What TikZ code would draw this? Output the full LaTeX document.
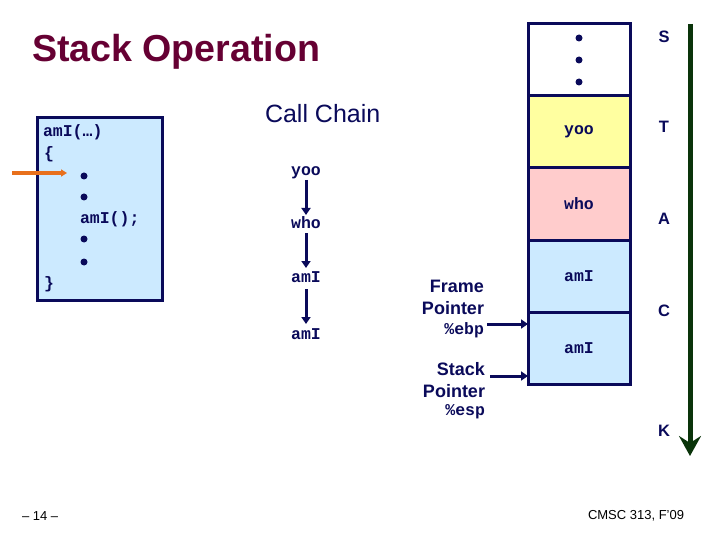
\documentclass[tikz,border=0pt]{standalone}
\usepackage{fontspec}
\setmainfont{Liberation Sans}
\setmonofont{Liberation Mono}
\usetikzlibrary{arrows.meta}
\definecolor{navy}{RGB}{10,10,90}
\definecolor{titlec}{RGB}{102,0,51}
\definecolor{boxblue}{RGB}{204,234,255}
\definecolor{yel}{RGB}{255,255,160}
\definecolor{pnk}{RGB}{255,204,204}
\definecolor{grn}{RGB}{10,52,10}
\definecolor{orng}{RGB}{232,112,28}
\begin{document}
\begin{tikzpicture}[x=1pt,y=-1pt,
  every node/.style={inner sep=0pt, outer sep=0pt},
  mono/.style={font=\fontsize{16.5}{18}\selectfont\ttfamily\bfseries, text=navy},
  dotb/.style={circle, fill=navy, minimum size=7pt},
  cell/.style={draw=navy, line width=3pt, minimum width=102pt, minimum height=72pt, mono},
  stk/.style={font=\fontsize{16.5}{18}\selectfont\bfseries, text=navy, anchor=base},
  ptrlbl/.style={font=\fontsize{18}{22}\selectfont\bfseries, text=navy, align=right, anchor=north east},
  navyarrow/.style={draw=navy, line width=3pt, -{Triangle[length=7pt,width=9pt]}},
  foot/.style={font=\fontsize{13}{15}\selectfont, text=black, anchor=base west},
]
\useasboundingbox[fill=white] (0,0) rectangle (720,540);

% title
\node[anchor=base west, font=\fontsize{37.6}{40}\selectfont\bfseries, text=titlec] (title) at (32,62) {Stack Operation};

% code box
\node[draw=navy, line width=3pt, fill=boxblue, minimum width=125pt, minimum height=182pt] (codebox) at (99.5,209) {};
\node[mono, anchor=base west] (l1) at (43,137) {amI(…)};
\node[mono, anchor=base west] (l2) at (44,159) {\{};
\node[dotb] (b1) at (84,176) {};
\node[dotb] (b2) at (84,197) {};
\node[mono, anchor=base west] (l3) at (80,224) {amI();};
\node[dotb] (b3) at (84,239) {};
\node[dotb] (b4) at (84,262) {};
\node[mono, anchor=base west] (l4) at (44,288) {\}};
\coordinate (oa) at (12,173);
\coordinate (ob) at (67,173);
\draw[draw=orng, line width=3.5pt, -{Triangle[length=6pt,width=7pt]}] (oa) -- (ob);

% call chain
\node[anchor=base west, font=\fontsize{25}{28}\selectfont, text=navy] (cchead) at (265,123) {Call Chain};
\node[mono, anchor=base] (cc1) at (306,176) {yoo};
\node[mono, anchor=base] (cc2) at (306,229) {who};
\node[mono, anchor=base] (cc3) at (306,282) {amI};
\node[mono, anchor=base] (cc4) at (306,339) {amI};
\draw[navyarrow] ([yshift=-4pt]cc1.base) -- ([yshift=14pt]cc2.base);
\draw[navyarrow] ([yshift=-4pt]cc2.base) -- ([yshift=14pt]cc3.base);
\draw[navyarrow] ([yshift=-7pt]cc3.base) -- ([yshift=15pt]cc4.base);

% stack
\node[cell, fill=white] (c1) at (579,60) {};
\node[cell, fill=yel] (c2) at (579,132) {yoo};
\node[cell, fill=pnk] (c3) at (579,204) {who};
\node[cell, fill=boxblue] (c4) at (579,276) {amI};
\node[cell, fill=boxblue] (c5) at (579,348) {amI};
\node[dotb] (d1) at (579,38) {};
\node[dotb] (d2) at (579,60) {};
\node[dotb] (d3) at (579,82) {};

% STACK letters
\node[stk] (sS) at (664,43) {S};
\node[stk] (sT) at (664,133) {T};
\node[stk] (sA) at (664,225) {A};
\node[stk] (sC) at (664,316) {C};
\node[stk] (sK) at (664,436) {K};
\coordinate (gtop) at (690,24);
\coordinate (gbot) at (690,456);
\draw[draw=grn, line width=5pt, -{Stealth[length=20pt,width=22pt,inset=7pt]}] (gtop) -- (gbot);

% pointers
\node[ptrlbl] (fp) at (484,280) {Frame\\Pointer\\[-2pt]{\ttfamily\fontsize{16.5}{18}\selectfont\%ebp}};
\node[ptrlbl] (sp) at (485,362) {Stack\\Pointer\\[-4pt]{\ttfamily\fontsize{16.5}{18}\selectfont\%esp}};
\coordinate (fpt) at (527,324);
\coordinate (spt) at (528,376);
\draw[navyarrow, shorten <=3pt] (fp.east |- fpt) -- (c5.west |- fpt);
\draw[navyarrow, shorten <=5pt] (sp.east |- spt) -- (c5.west |- spt);

% footer
\node[foot] (pg) at (22,520) {– 14 –};
\node[foot] (course) at (588,519) {CMSC 313, F'09};
\end{tikzpicture}
\end{document}
